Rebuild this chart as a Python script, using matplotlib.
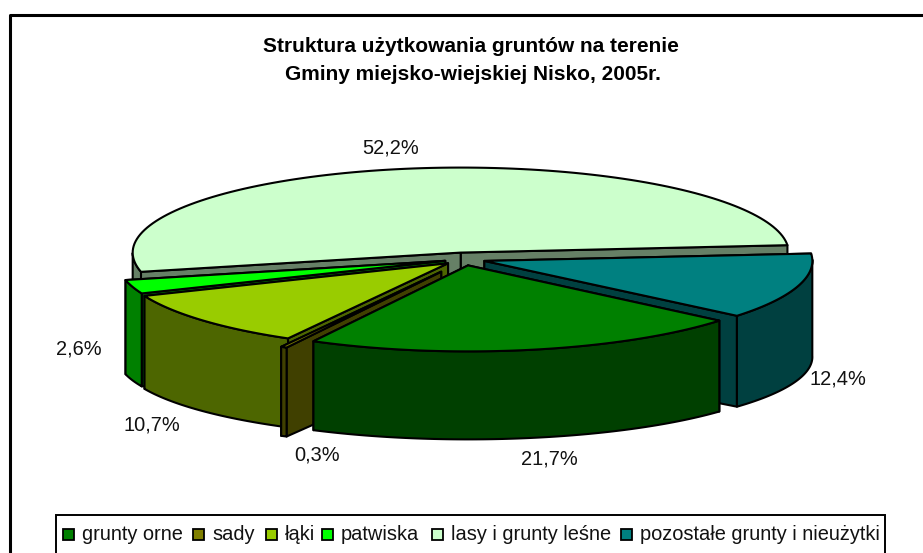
# Struktura uzytkowania gruntow - wykres kolowy 3D
import numpy as np
from matplotlib import pyplot as plt
from matplotlib.patches import Polygon, Rectangle

plt.rcParams['font.family'] = ['Liberation Sans', 'DejaVu Sans']

labels = ['grunty orne', 'sady', 'łąki', 'patwiska', 'lasy i grunty leśne',
          'pozostałe grunty i nieużytki']
values = [21.7, 0.3, 10.7, 2.6, 52.2, 12.4]
value_labels = ['21,7%', '0,3%', '10,7%', '2,6%', '52,2%', '12,4%']
top_colors = ['#008000', '#808000', '#99CC00', '#00FF00', '#CCFFCC', '#008080']
side_colors = ['#004000', '#404000', '#4D6600', '#008000', '#668066', '#004040']

# uklad w pikselach obrazka
W, H = 923, 553
CX, CY = 464, 259
RX, RY_BACK, RY_FRONT = 328, 85, 86
EXPLODE = [0.065, 0.145, 0.065, 0.06, 0.065, 0.065]
EXPLODE_RY = 100
DEPTH = 96
RY_BOTTOM = 78
START = 130.0
label_pos = [(549, 459), (317, 455), (152, 425), (79, 349), (391, 148), (838, 379)]


def rim(a, cx, cy, bottom=False):
    # a - kat w stopniach zgodnie ze wskazowkami od gory
    r = np.radians(a)
    s, c = np.sin(r), -np.cos(r)
    if bottom:
        ry = np.where(c > 0, RY_BOTTOM, RY_BACK)
        return cx + RX * s, cy + DEPTH + ry * c
    ry = np.where(c > 0, RY_FRONT, RY_BACK)
    return cx + RX * s, cy + ry * c


def draw_slice(ax, a0, a1, explode, top, side):
    mid = np.radians((a0 + a1) / 2)
    cx = CX + explode * RX * np.sin(mid)
    cy = CY - explode * EXPLODE_RY * np.cos(mid)
    angles = np.linspace(a0, a1, 120)
    xt, yt = rim(angles, cx, cy)
    xb, yb = rim(angles, cx, cy, bottom=True)
    style = dict(edgecolor='black', linewidth=1.5, joinstyle='round')

    # sciany przekroju, najpierw ta dalsza
    for a in sorted((a0, a1), key=lambda v: -np.cos(np.radians(v))):
        x0, y0 = rim(np.array([a]), cx, cy)
        x1, y1 = rim(np.array([a]), cx, cy, bottom=True)
        pts = [(cx, cy), (x0[0], y0[0]), (x1[0], y1[0]), (cx, cy + DEPTH)]
        ax.add_patch(Polygon(pts, facecolor=side, **style))

    # sciana zewnetrzna, tylko to co z przodu
    front = np.sin(np.radians(angles) - np.pi / 2) > -0.02
    if front.any():
        pts = np.r_[np.c_[xt[front], yt[front]], np.c_[xb[front], yb[front]][::-1]]
        ax.add_patch(Polygon(pts, facecolor=side, **style))

    pts = np.r_[[[cx, cy]], np.c_[xt, yt]]
    ax.add_patch(Polygon(pts, facecolor=top, **style))


fig = plt.figure(figsize=(W / 100, H / 100), dpi=100)
ax = fig.add_axes([0, 0, 1, 1])
ax.set_xlim(0, W)
ax.set_ylim(H, 0)
ax.axis('off')

# ramka wykresu, z prawej i z dolu ucieta
ax.plot([10, 10, W + 5], [H + 5, 15, 15], color='black', lw=2.2)

bounds = START + np.r_[0, np.cumsum(values)] * 3.6
order = [4, 5, 3, 2, 1, 0]
for i in order:
    draw_slice(ax, bounds[i], bounds[i + 1], EXPLODE[i], top_colors[i], side_colors[i])

for text, (x, y) in zip(value_labels, label_pos):
    ax.text(x, y, text, fontsize=14.4, ha='center', va='center', color='#111111')

ax.text(471, 46, 'Struktura użytkowania gruntów na terenie', fontsize=15,
        fontweight='bold', ha='center', va='center')
ax.text(473, 74, 'Gminy miejsko-wiejskiej Nisko, 2005r.', fontsize=15,
        fontweight='bold', ha='center', va='center')

# legenda
ax.add_patch(Rectangle((56, 515), 829, 50, facecolor='white', edgecolor='black', lw=1.4))
legend_x = [63, 193, 266, 322, 432, 621]
for x, name, color in zip(legend_x, labels, top_colors):
    ax.add_patch(Rectangle((x, 529), 11, 11, facecolor=color, edgecolor='black', lw=1.3))
    ax.text(x + 19, 535, name, fontsize=14.4, ha='left', va='center', color='#111111')

fig.savefig('out.png', dpi=100)
